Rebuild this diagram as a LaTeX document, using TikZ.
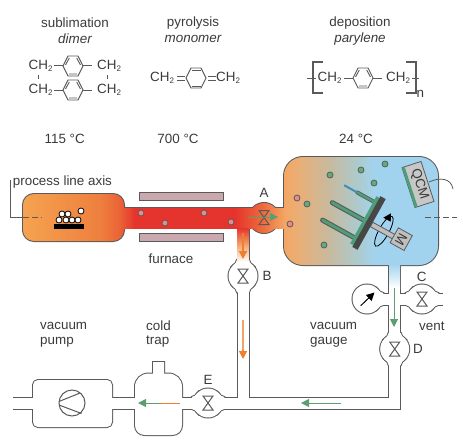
\documentclass[tikz,border=0pt]{standalone}
\usepackage{fontspec}
\setmainfont{Liberation Sans}
\usetikzlibrary{arrows.meta}
\definecolor{ln}{HTML}{5A5A5A}
\definecolor{tx}{HTML}{3A3A3A}
\definecolor{grn}{HTML}{5C9E72}
\definecolor{org}{HTML}{EE7F2F}
\definecolor{orgl}{HTML}{F2A468}
\definecolor{pa}{HTML}{F5A350}
\definecolor{pb}{HTML}{EE7F3E}
\definecolor{pc}{HTML}{EA6236}
\definecolor{pd}{HTML}{E5332D}
\definecolor{pe}{HTML}{EE6A3A}
\definecolor{pf}{HTML}{F4A765}
\definecolor{pg}{HTML}{E8AF78}
\definecolor{ph}{HTML}{C6BAA0}
\definecolor{pi}{HTML}{AFC9C8}
\definecolor{pj}{HTML}{A2D3EE}
\definecolor{ball}{HTML}{E88A8A}
\definecolor{gball}{HTML}{5FAE7A}
\definecolor{layer}{HTML}{4E9E7A}
\definecolor{barc}{HTML}{C9A8AE}
\definecolor{tipc}{HTML}{3B8FB8}
\pgfdeclarehorizontalshading{procline}{100bp}{color(0bp)=(pa); color(25bp)=(pa); color(34.3bp)=(pb); color(36.7bp)=(pc); color(38.5bp)=(pd); color(50.5bp)=(pd); color(53.8bp)=(pe); color(56.6bp)=(pf); color(58.4bp)=(pg); color(62bp)=(ph); color(65bp)=(pi); color(67.4bp)=(pj); color(75bp)=(pj); color(100bp)=(pj)}
\newcommand\chtwo{CH\raisebox{-2.5pt}{\fontsize{8}{8}\selectfont 2}}
\newcommand\procshade[1]{\begin{scope}\clip #1;\shade[shading=procline] (23,150) rectangle (438,270);\end{scope}}
% patch that rounds the joint of a round body and a pipe: #1,#2 centre, #3 rotation, #4 radius, #5 style
\newcommand\jointpatch[5]{\begin{scope}[shift={(#1,#2)},rotate=#3]
\path[#5] (0.707*#4,-0.707*#4) .. controls (0.707*#4+2,-0.707*#4+2) and (0.707*#4+3,-6) .. (0.707*#4+6,-6) -- (0.707*#4+6,6) .. controls (0.707*#4+3,6) and (0.707*#4+2,0.707*#4-2) .. (0.707*#4,0.707*#4) -- cycle;
\end{scope}}
\newcommand\plumbing[5]{% #1 shape style, #2 pipe width, #3 colour, #4 left end, #5 right end
\draw[color=#3,line width=#2] (#4,403) -- (394.7,403) -- (394.7,262);
\draw[color=#3,line width=#2] (243,218) -- (243,403);
\draw[color=#3,line width=#2] (367,299) -- (#5,299);
\path[#1] (208,403) circle[radius=14.5];
\path[#1] (243,276) circle[radius=14.5];
\path[#1] (394.7,349) circle[radius=14.5];
\path[#1] (422,299) circle[radius=14.5];
\path[#1] (367,299) circle[radius=14.5];
\jointpatch{208}{403}{0}{14.5}{#1}\jointpatch{208}{403}{180}{14.5}{#1}
\jointpatch{243}{276}{90}{14.5}{#1}\jointpatch{243}{276}{270}{14.5}{#1}
\jointpatch{394.7}{349}{90}{14.5}{#1}\jointpatch{394.7}{349}{270}{14.5}{#1}
\jointpatch{422}{299}{0}{14.5}{#1}\jointpatch{422}{299}{180}{14.5}{#1}
\jointpatch{367}{299}{0}{14.5}{#1}
\path[#1,rounded corners=5pt] (33,380) rectangle (112,427);
\path[#1] (153,373.5) -- (153,362) -- (164,362) -- (164,373.5) -- (168,373.5) .. controls (176,373.5) and (182,379) .. (182,387) -- (182,425) .. controls (182,431) and (178,435) .. (172,435) -- (145,435) .. controls (139,435) and (135,431) .. (135,425) -- (135,387) .. controls (135,379) and (141,373.5) .. (149,373.5) -- cycle;
}
\newcommand\valvemark[2]{\draw[bow] (#1-5,#2-7) -- (#1+5,#2-7) -- (#1-5,#2+7) -- (#1+5,#2+7) -- cycle;}
\newcommand\hexring[3]{\begin{scope}[shift={(#1,#2)},chem]
\draw (-10,0) -- (-5,-10) -- (5,-10) -- (10,0) -- (5,10) -- (-5,10) -- cycle;
\ifnum#3=1
\draw (-4,8) -- (4,8) (-7.5,-1) -- (-3.7,-8) (7.5,-1) -- (3.7,-8);
\else
\draw (-4.5,-8) -- (4.5,-8) (-4.5,8) -- (4.5,8);
\fi
\end{scope}}
\tikzset{
 txt/.style={text=tx,inner sep=0pt,font=\fontsize{13.4}{15}\selectfont},
 lft/.style={txt,anchor=west},
 chem/.style={color=ln,line width=0.9pt},
 bow/.style={color=ln,line width=1pt,line join=miter},
 pinkball/.style={fill=ball,draw=ln,line width=0.8pt},
 greenball/.style={fill=gball,draw=ln,line width=0.8pt},
 whiteball/.style={fill=white,draw=black,line width=0.8pt},
 garrow/.style={color=grn,line width=1pt,-{Triangle[length=8pt,width=8pt]}},
 oarrow/.style={color=org,line width=1.2pt,-{Triangle[length=8pt,width=8pt]}},
 furnacebar/.style={fill=barc,draw=ln,line width=0.8pt},
 topouter/.style={draw=ln,line width=2pt},
 plumbouter/.style={draw=ln,line width=2pt},
 plumbinner/.style={fill=white},
 rodout/.style={color=ln,line width=5pt,line cap=round},
 rodin/.style={color=layer,line width=2.8pt,line cap=round},
}
\begin{document}
\begin{tikzpicture}[x=1pt,y=-1pt]
\useasboundingbox (0,0) rectangle (463,447);
% header text
\node[txt] (t1) at (75,23) {sublimation};
\node[txt] (t2) at (75,39) {\itshape dimer};
\node[txt] (t3) at (193,23) {pyrolysis};
\node[txt] (t4) at (193,39) {\itshape monomer};
\node[txt] (t5) at (360,23) {deposition};
\node[txt] (t6) at (360,39) {\itshape parylene};
\node[txt] (t7) at (64.7,139) {115 °C};
\node[txt] (t8) at (178,139) {700 °C};
\node[txt] (t9) at (356,139) {24 °C};
% dimer
\node[lft] (d1) at (28.5,66) {\chtwo};
\node[lft] (d2) at (28.5,90) {\chtwo};
\node[lft] (d3) at (97,66) {\chtwo};
\node[lft] (d4) at (97,90) {\chtwo};
\hexring{73}{66}{1}
\hexring{73}{90}{1}
\draw[chem] (54,65.5) -- (63,65.5) (83,65.5) -- (92,65.5) (54,90) -- (63,90) (83,90) -- (92,90);
\draw[chem] (38,75) -- (38,79) (107,75) -- (107,79);
% monomer
\node[lft] (m1) at (150,78) {\chtwo};
\node[lft] (m2) at (216,78) {\chtwo};
\hexring{196}{78}{0}
\draw[chem] (177,76) -- (184.5,76) (177,80) -- (184.5,80) (208,76) -- (215.5,76) (208,80) -- (215.5,80);
% parylene
\node[lft] (p1) at (317.5,78) {\chtwo};
\node[lft] (p2) at (386,78) {\chtwo};
\hexring{363}{78}{1}
\draw[chem] (344,78) -- (353,78) (373,78) -- (382,78) (307,78) -- (316,78) (412,78) -- (419,78);
\draw[chem,line width=1.1pt] (323,62) -- (313,62) -- (313,93) -- (323,93) (406,62) -- (416,62) -- (416,93) -- (406,93);
\node[lft] (pn) at (416.5,94) {n};
% outer outlines
\plumbing{plumbouter}{13}{ln}{13}{443}
\path[topouter] (120,208) rectangle (288,228);
\path[topouter] (264,218) circle[radius=15];
\path[topouter,rounded corners=11pt] (23,194) rectangle (124,241);
\path[topouter,rounded corners=19pt] (284,157) rectangle (438,265);
% inner fills
\plumbing{plumbinner}{11}{white}{11}{445}
\procshade{(120,208) rectangle (288,228)}
\procshade{(264,218) circle[radius=15]}
\procshade{[rounded corners=11pt] (23,194) rectangle (124,241)}
\procshade{[rounded corners=19pt] (284,157) rectangle (438,265)}
\shade[top color=pd,bottom color=white,middle color=org!70!white] (237.5,228) rectangle (248.5,262);
\shade[top color=pj,bottom color=white] (389.2,264) rectangle (400.2,288);
% furnace
\path[furnacebar] (139,192) rectangle (223,200);
\path[furnacebar] (139,233) rectangle (223,241);
\node[txt] (fu) at (171,259) {furnace};
% axis
\draw[color=ln,line width=0.9pt] (10,180) -- (10,217) -- (23,217);
\draw[color=ln,line width=0.9pt,dash pattern=on 6pt off 3pt] (23,217) -- (42,217);
\draw[color=ln,line width=0.9pt,dash pattern=on 6pt off 3pt] (425,217) -- (457,217);
\node[lft] (ax) at (12.7,182) {process line axis};
% source material
\fill[black] (54,224) rectangle (84,229);
\foreach \bx/\by in {59/220,66/220,72/220,78/220,62/214,68/214,81/211}
  \path[whiteball] (\bx,\by) circle[radius=3];
% monomer particles
\foreach \bx/\by in {141/213,165/223,204/213,231/222,297/198,290/224}
  \path[pinkball] (\bx,\by) circle[radius=3];
\foreach \bx/\by in {307/204,330/175,361/170,385/164,374/183,324/245}
  \path[greenball] (\bx,\by) circle[radius=3];
% QCM
\begin{scope}[shift={(418,184.5)},rotate=-72]
\draw[fill=black!22,draw=ln,line width=0.8pt] (-21,-10) rectangle (21,10);
\fill[layer] (-21,7.2) rectangle (21,10);
\node[txt,rotate=-72] (qcm) at (0,-1.5) {QCM};
\end{scope}
\draw[color=ln,line width=0.8pt] (429,182) .. controls (440,177) and (451,178) .. (453,189);
% holder
\begin{scope}[shift={(369,223)},rotate=-29]
\draw[color=black,line width=0.8pt] (17,0) ellipse[x radius=5,y radius=17];
\draw[rodout] (-5,0) -- (-42,0);
\draw[rodin] (-5,0) -- (-42,0);
\draw[rodout] (-5,20) -- (-42,20);
\draw[rodin] (-5,20) -- (-42,20);
\draw[color=ln,line width=4pt,line cap=round] (-5,-21) -- (-25,-21);
\draw[color=layer,line width=2.4pt,line cap=round] (-5,-21) -- (-25,-21);
\draw[color=tipc,line width=2pt] (-25,-21) -- (-40,-21);
\fill[layer] (-6.5,-27) rectangle (-3,27);
\fill[black!72] (-3,-29) rectangle (3,29);
\draw[fill=black!25,draw=ln,line width=0.8pt] (3,-2.5) rectangle (29,2.5);
\draw[fill=black!25,draw=ln,line width=0.8pt] (28,-10) rectangle (44,7);
\node[txt,rotate=-119] (mot) at (36,-1.5) {M};
\end{scope}
\fill[black] (383.3,217.7) -- (391,213.3) -- (390.7,221.7) -- cycle;
% valves
\valvemark{264}{217.5}
\valvemark{243}{276}
\valvemark{394.7}{349}
\valvemark{422}{299}
\valvemark{208}{403}
% gauge needle
\draw[color=black,line width=1pt,-{Triangle[length=8pt,width=8pt]}] (360.7,305.7) -- (374.5,292.5);
% pump rotor
\draw[color=ln,line width=1pt] (72,403) circle[radius=13];
\draw[color=ln,line width=1pt] (59,401.5) -- (80,393) (59,405) -- (81.5,413.5);
% flow arrows
\draw[oarrow] (243,233) -- (243,259);
\draw[orgl,line width=1.3pt] (243,320) -- (243,352);
\draw[oarrow] (243,350) -- (243,359);
\draw[garrow] (248,217) -- (278,217);
\draw[garrow] (394,288) -- (394,327);
\draw[garrow] (341,403) -- (301,403);
\draw[color=org,line width=1pt] (180,403) -- (160,403);
\draw[garrow] (161,403) -- (138,403);
% labels
\node[txt] (la) at (264,192.5) {A};
\node[txt] (lb) at (267,276) {B};
\node[txt] (lc) at (421.7,276.5) {C};
\node[txt] (ld) at (418,349) {D};
\node[txt] (le) at (208,380) {E};
\node[lft] (vp1) at (40,326) {vacuum};
\node[lft] (vp2) at (40,342) {pump};
\node[lft] (ct1) at (146,326) {cold};
\node[lft] (ct2) at (146,341.5) {trap};
\node[lft] (vg1) at (310,326) {vacuum};
\node[lft] (vg2) at (310,342) {gauge};
\node[lft] (vt) at (419,326) {vent};
\end{tikzpicture}
\end{document}
